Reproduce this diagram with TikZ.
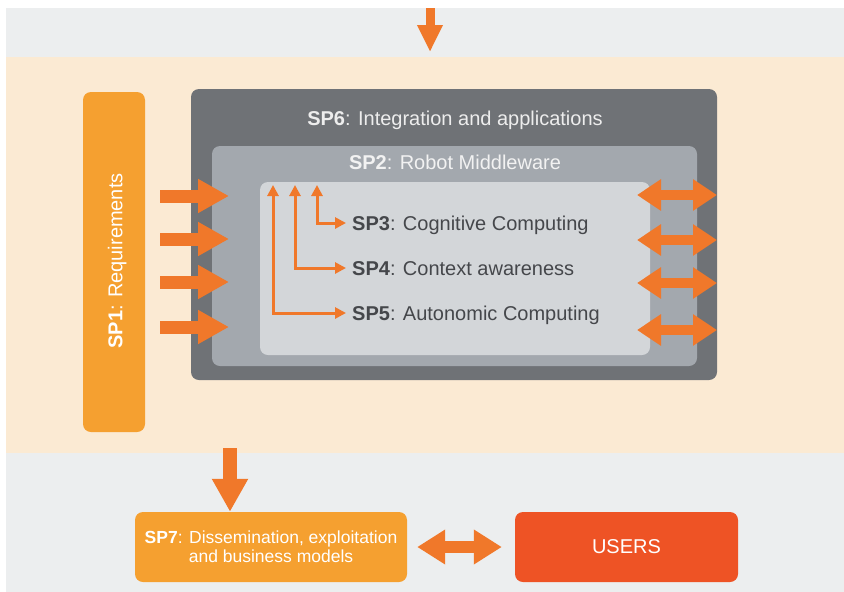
\documentclass[tikz,border=0pt]{standalone}
\usepackage{fontspec}
\setmainfont{Liberation Sans}
\usetikzlibrary{arrows.meta}
\definecolor{peach}{HTML}{FBEAD3}
\definecolor{band}{HTML}{ECEEEF}
\definecolor{darkbox}{HTML}{6F7276}
\definecolor{midbox}{HTML}{A3A8AE}
\definecolor{lightbox}{HTML}{D3D6D9}
\definecolor{orng}{HTML}{F0782A}
\definecolor{amber}{HTML}{F5A030}
\definecolor{userred}{HTML}{EE5325}
\definecolor{txt}{HTML}{45474B}
\tikzset{
  box/.style={rounded corners=8pt, inner sep=0pt},
  lbl/.style={inner sep=0pt, text height=14.5pt, text depth=0pt, font=\fontsize{20}{22}\selectfont},
  fat/.style={draw=orng, line width=13pt, -{Triangle[length=31pt,width=32pt]}},
  dbl/.style={draw=orng, line width=10pt, {Triangle[length=24pt,width=30pt]}-{Triangle[length=24pt,width=30pt]}},
  thinarr/.style={draw=orng, line width=3pt, {Triangle[length=11pt,width=11pt]}-{Triangle[length=11pt,width=11pt]}}
}
\begin{document}
\begin{tikzpicture}[x=1pt,y=-1pt]
\useasboundingbox (0,0) rectangle (844,592);
\fill[white] (0,0) rectangle (844,592);
\fill[band] (6,8) rectangle (844,57);
\fill[peach] (6,57) rectangle (844,453);
\fill[band] (6,453) rectangle (844,592);

% boxes
\node[box, fill=amber, minimum width=62pt, minimum height=340pt] (sp1) at (114,262) {};
\node[lbl, text=white, rotate=90] (sp1t) at (115,261) {\textbf{SP1}: Requirements};
\node[box, fill=darkbox, minimum width=526pt, minimum height=291pt] (sp6) at (454,234.5) {};
\node[lbl, text=white!93!black] (sp6t) at (455,118) {\textbf{SP6}: Integration and applications};
\node[box, fill=midbox, minimum width=485pt, minimum height=220pt] (sp2) at (454.5,256) {};
\node[lbl, text=white!95!black] (sp2t) at (455,162) {\textbf{SP2}: Robot Middleware};
\node[box, fill=lightbox, minimum width=390pt, minimum height=173pt] (core) at (455,268.5) {};

\node[lbl, text=txt, anchor=west, inner xsep=6pt] (sp3) at (346,223) {\textbf{SP3}: Cognitive Computing};
\node[lbl, text=txt, anchor=west, inner xsep=6pt] (sp4) at (346,268) {\textbf{SP4}: Context awareness};
\node[lbl, text=txt, anchor=west, inner xsep=6pt] (sp5) at (346,313) {\textbf{SP5}: Autonomic Computing};

\node[box, fill=amber, minimum width=272pt, minimum height=70pt, align=center, text=white,
  font=\fontsize{17.5}{19}\selectfont] (sp7) at (271,547) {\textbf{SP7}: Dissemination, exploitation\\and business models};
\node[box, fill=userred, minimum width=223pt, minimum height=70pt, text=white,
  font=\fontsize{20}{22}\selectfont] (users) at (626.5,547) {USERS};

% coordinates for free ends
\coordinate (topS) at (430,8);
\coordinate (topE) at (430,52);
\foreach \i/\y in {1/196,2/239,3/282,4/327}{
  \coordinate (ls\i) at (160,\y);
  \coordinate (le\i) at (229,\y);
}
\foreach \i/\y in {1/195,2/240,3/283,4/330}{
  \coordinate (rs\i) at (637,\y);
  \coordinate (re\i) at (717,\y);
}
\coordinate (u3) at (317,185);
\coordinate (u4) at (295,185);
\coordinate (u5) at (273,185);
\coordinate (dS) at (230,448);

% connectors
\draw[draw=orng, line width=9pt, -{Triangle[length=27pt,width=24pt]}] (topS) -- (topE);
\foreach \i in {1,2,3,4}{
  \draw[fat] (ls\i) -- (le\i);
  \draw[dbl] (rs\i) -- (re\i);
}
\draw[thinarr] (u3) |- (sp3.west);
\draw[thinarr] (u4) |- (sp4.west);
\draw[thinarr] (u5) |- (sp5.west);
\draw[draw=orng, line width=14pt, -{Triangle[length=33pt,width=34pt]}] (dS) -- (sp7.north -| dS);
\draw[draw=orng, line width=12pt, {Triangle[length=28pt,width=33pt]}-{Triangle[length=28pt,width=33pt]}]
  ([xshift=10pt]sp7.east) -- ([xshift=-13pt]users.west);
\end{tikzpicture}
\end{document}
